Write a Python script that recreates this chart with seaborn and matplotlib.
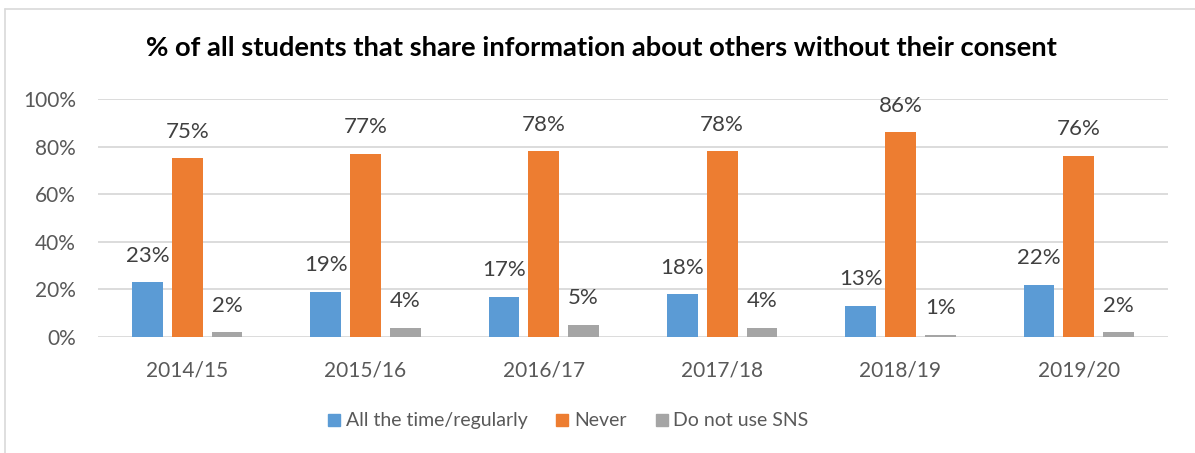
import pandas as pd
import seaborn as sns
import matplotlib.pyplot as plt
from matplotlib.lines import Line2D

years = ['2014/15', '2015/16', '2016/17', '2017/18', '2018/19', '2019/20']
all_the_time = [23, 19, 17, 18, 13, 22]
never = [75, 77, 78, 78, 86, 76]
no_sns = [2, 4, 5, 4, 1, 2]
series_names = ['All the time/regularly', 'Never', 'Do not use SNS']
colors = ['#5B9BD5', '#ED7D31', '#A5A5A5']

df = pd.DataFrame({
    'year': years * 3,
    'value': all_the_time + never + no_sns,
    'series': [series_names[0]] * 6 + [series_names[1]] * 6 + [series_names[2]] * 6,
})

sns.set_theme(style='white')
plt.rcParams['font.family'] = ['Lato', 'DejaVu Sans']

fig = plt.figure(figsize=(11.95, 4.53), dpi=100)
ax = fig.add_axes([0.082, 0.256, 0.8954, 0.5255])

sns.barplot(data=df, x='year', y='value', hue='series', palette=colors, saturation=1,
            width=0.67, gap=0.225, linewidth=0, ax=ax, legend=False)

for c in ax.containers:
    ax.bar_label(c, fmt='%d%%', padding=12, fontsize=16, color='#404040')

ax.set_ylim(0, 100)
ax.set_yticks(range(0, 101, 20))
ax.set_yticklabels([f'{v}%' for v in range(0, 101, 20)])
ax.yaxis.grid(True, color='#D9D9D9', linewidth=1.3)
ax.set_axisbelow(True)
for s in ax.spines.values():
    s.set_visible(False)
ax.tick_params(axis='both', length=0, labelsize=15, colors='#595959')
ax.tick_params(axis='y', pad=16)
ax.tick_params(axis='x', pad=17)
ax.set_xlabel('')
ax.set_ylabel('')

fig.text(0.503, 0.893, '% of all students that share information about others without their consent',
         ha='center', va='center', fontsize=19.7, fontweight='bold', color='black')

handles = [Line2D([], [], marker='s', linestyle='', markersize=8.5, color=c) for c in colors]
fig.legend(handles, series_names, loc='center', bbox_to_anchor=(0.474, 0.071), ncol=3,
           frameon=False, fontsize=14, labelcolor='#595959', handletextpad=0.1,
           columnspacing=1.3, handlelength=1.0)

# chart frame (top and left edges visible)
fig.add_artist(Line2D([0.0042, 1.0], [0.980, 0.980], color='#D9D9D9', linewidth=1.2, transform=fig.transFigure))
fig.add_artist(Line2D([0.0042, 0.0042], [0.0, 0.980], color='#D9D9D9', linewidth=1.2, transform=fig.transFigure))

fig.savefig('out.png', dpi=100)
